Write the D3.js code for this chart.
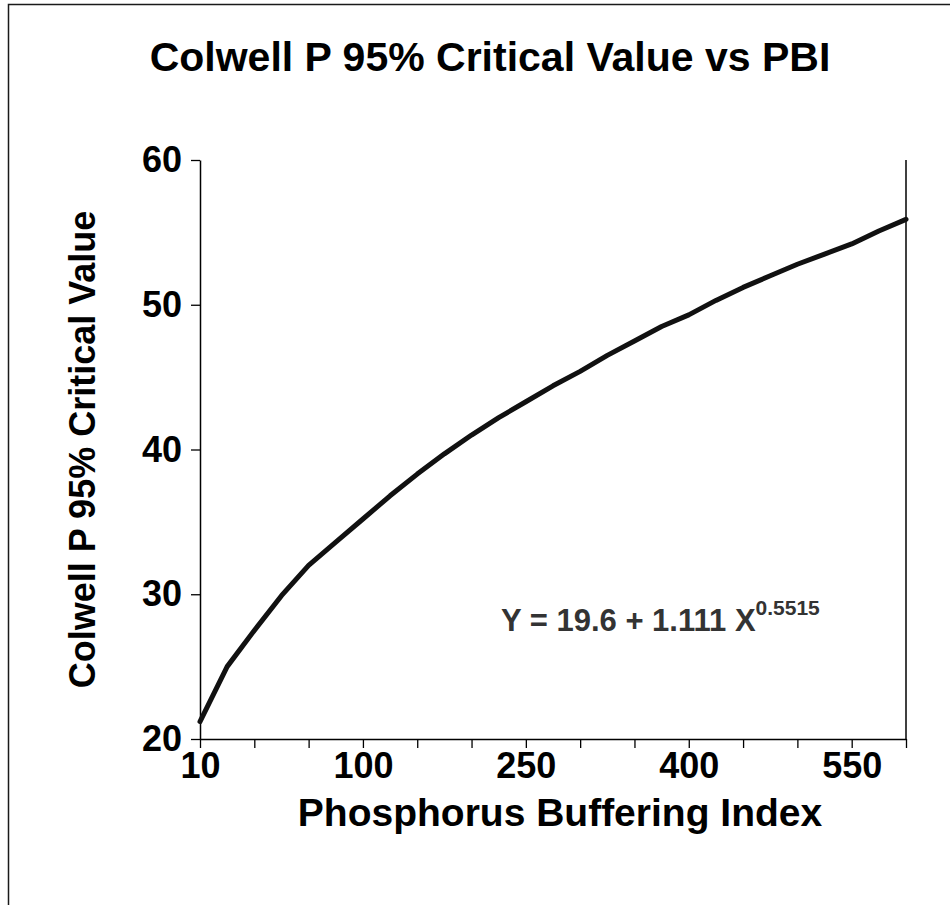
<!DOCTYPE html>
<html>
<head>
<meta charset="utf-8">
<script src="https://cdn.jsdelivr.net/npm/d3@7"></script>
<style>
  html, body { margin: 0; padding: 0; background: #fff; }
  svg { display: block; }
  text { font-family: "Liberation Sans", Arial, Helvetica, sans-serif; font-weight: bold; }
</style>
</head>
<body>
<script>
// ---- data ----
const chartTitle = "Colwell P 95% Critical Value vs PBI";
const xAxisTitle = "Phosphorus Buffering Index";
const yAxisTitle = "Colwell P 95% Critical Value";
// one entry per category tick on the x axis (labels shown every third tick)
const xTickLabels = ["10", "", "", "100", "", "", "250", "", "", "400", "", "", "550", ""];
const yTickValues = [20, 30, 40, 50, 60];
// curve values sampled every half category step along the x axis
const criticalValues = [21.2, 25.0, 27.5, 29.9, 32.0, 33.6, 35.2, 36.8, 38.3, 39.7, 41.0, 42.2,
  43.3, 44.4, 45.4, 46.5, 47.5, 48.5, 49.3, 50.3, 51.2, 52.0, 52.8, 53.5, 54.2, 55.1, 55.9];
const sampleStep = 0.5;
const equationMain = "Y = 19.6 + 1.111 X";
const equationExp = "0.5515";

// ---- layout ----
const W = 950, H = 905;
const plot = { left: 200, right: 906, top: 160, bottom: 739 };

const svg = d3.select("body").append("svg").attr("width", W).attr("height", H);

// outer chart frame (only left and top edges visible in the picture)
svg.append("rect")
  .attr("x", 8.5).attr("y", 4.5).attr("width", 1200).attr("height", 1200)
  .attr("fill", "none").attr("stroke", "#1a1a1a").attr("stroke-width", 1.5);

const x = d3.scaleLinear().domain([0, xTickLabels.length - 1]).range([plot.left, plot.right]);
const y = d3.scaleLinear().domain([20, 60]).range([plot.bottom, plot.top]);

// title
svg.append("text")
  .attr("x", 490).attr("y", 71)
  .attr("text-anchor", "middle")
  .attr("font-size", 41)
  .attr("fill", "#000")
  .text(chartTitle);

// plot right border
svg.append("line")
  .attr("x1", plot.right).attr("x2", plot.right)
  .attr("y1", plot.top).attr("y2", plot.bottom)
  .attr("stroke", "#000").attr("stroke-width", 1.5);

// y axis
const yAxis = d3.axisLeft(y).tickValues(yTickValues).tickSize(9).tickSizeOuter(0).tickPadding(9)
  .tickFormat(d3.format("d"));
const gy = svg.append("g").attr("transform", `translate(${plot.left},0)`).call(yAxis);
gy.select(".domain").attr("stroke", "#000").attr("stroke-width", 1.5);
gy.selectAll(".tick line").attr("stroke", "#000").attr("stroke-width", 1.3);
gy.selectAll(".tick text").attr("font-size", 36).attr("fill", "#000")
  .style("font-family", "'Liberation Sans', Arial, sans-serif").style("font-weight", "bold");

// x axis
const xAxis = d3.axisBottom(x).tickValues(d3.range(xTickLabels.length)).tickSize(9).tickSizeOuter(0)
  .tickPadding(4).tickFormat(i => xTickLabels[i]);
const gx = svg.append("g").attr("transform", `translate(0,${plot.bottom})`).call(xAxis);
gx.select(".domain").attr("stroke", "#000").attr("stroke-width", 1.5);
gx.selectAll(".tick line").attr("stroke", "#000").attr("stroke-width", 1.3);
gx.selectAll(".tick text").attr("font-size", 36).attr("fill", "#000")
  .style("font-family", "'Liberation Sans', Arial, sans-serif").style("font-weight", "bold");

// curve
const line = d3.line()
  .x((d, i) => x(i * sampleStep))
  .y(d => y(d));
svg.append("path")
  .datum(criticalValues)
  .attr("d", line)
  .attr("fill", "none")
  .attr("stroke", "#111")
  .attr("stroke-width", 5)
  .attr("stroke-linejoin", "round")
  .attr("stroke-linecap", "round");

// equation
const eq = svg.append("text")
  .attr("x", 501).attr("y", 631)
  .attr("font-size", 31)
  .attr("fill", "#333");
eq.append("tspan").text(equationMain);
eq.append("tspan").attr("dy", -16).attr("font-size", 21).text(equationExp);

// axis titles
svg.append("text")
  .attr("x", 560).attr("y", 826)
  .attr("text-anchor", "middle")
  .attr("font-size", 39)
  .attr("fill", "#000")
  .text(xAxisTitle);

svg.append("text")
  .attr("transform", `translate(95,${(plot.top + plot.bottom) / 2}) rotate(-90)`)
  .attr("text-anchor", "middle")
  .attr("font-size", 36)
  .attr("fill", "#000")
  .text(yAxisTitle);
</script>
</body>
</html>
